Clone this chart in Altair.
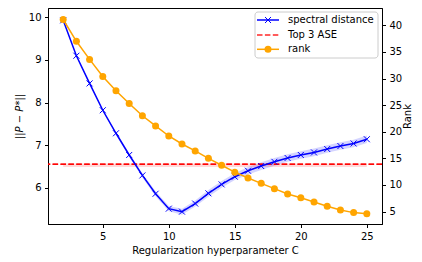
import altair as alt
import pandas as pd

# ---- data ----
C = list(range(2, 26))
spectral = [9.93, 9.10, 8.45, 7.82, 7.28, 6.77, 6.29, 5.86, 5.51, 5.44, 5.63, 5.87,
            6.08, 6.26, 6.40, 6.51, 6.61, 6.70, 6.77, 6.83, 6.91, 6.98, 7.04, 7.14]
spectral_std = [0.01, 0.02, 0.02, 0.03, 0.03, 0.04, 0.05, 0.06, 0.06, 0.07, 0.07, 0.08,
                0.08, 0.08, 0.09, 0.09, 0.09, 0.09, 0.09, 0.09, 0.09, 0.09, 0.09, 0.09]
rank = [41.1, 37.0, 33.6, 30.4, 27.7, 25.3, 23.0, 21.1, 19.2, 17.7, 16.4, 15.0,
        13.7, 12.4, 11.3, 10.3, 9.3, 8.3, 7.6, 6.8, 6.0, 5.3, 4.8, 4.6]
ase_value = 6.55
ase_low = 6.49
ase_high = 6.57
x_ticks = [5, 10, 15, 20, 25]
left_ticks = [6, 7, 8, 9, 10]
right_ticks = [5, 10, 15, 20, 25, 30, 35, 40]
legend_labels = ["spectral distance", "Top 3 ASE", "rank"]

df = pd.DataFrame({
    "C": C,
    "spectral": spectral,
    "lo": [m - s for m, s in zip(spectral, spectral_std)],
    "hi": [m + s for m, s in zip(spectral, spectral_std)],
    "rank": rank,
})
ase_df = pd.DataFrame({"C": [C[0], C[-1]], "lo": [ase_low, ase_low], "hi": [ase_high, ase_high]})

W, H = 334, 216
FONT = "DejaVu Sans"
XPATH = "M-1,-1L1,1M-1,1L1,-1"

xscale = alt.Scale(domain=[0.85, 26.15], nice=False, zero=False)
ylscale = alt.Scale(domain=[5.15, 10.22], nice=False, zero=False)
yrscale = alt.Scale(domain=[2.66, 43.26], nice=False, zero=False)

x_axis = alt.Axis(values=x_ticks, title="Regularization hyperparameter C", grid=False)
left_axis = alt.Axis(values=left_ticks, title="||P − P*||", titleFontStyle="italic", grid=False)
right_axis = alt.Axis(values=right_ticks, title="Rank", orient="right", grid=False,
                      titleAngle=270, titleBaseline="top", titlePadding=1)


def X(field="C:Q"):
    return alt.X(field, scale=xscale, axis=x_axis)


def YL(field):
    return alt.Y(field, scale=ylscale, axis=left_axis)


def YR(field):
    return alt.Y(field, scale=yrscale, axis=right_axis)


base = alt.Chart(df)

spec_band = base.mark_area(color="blue", opacity=0.17).encode(x=X(), y=YL("lo:Q"), y2="hi:Q")
ase_band = alt.Chart(ase_df).mark_area(color="red", opacity=0.15).encode(x=X(), y=YL("lo:Q"), y2="hi:Q")
ase_rule = alt.Chart(ase_df).mark_rule(color="red", opacity=0.85, strokeWidth=1.5,
                                       strokeDash=[5.5, 2.4]).encode(
    y=alt.Y(datum=ase_value, scale=ylscale, axis=left_axis))
spec_line = base.mark_line(color="blue", strokeWidth=1.5).encode(x=X(), y=YL("spectral:Q"))
spec_pts = base.mark_point(shape=XPATH, filled=False, color="blue", size=36,
                           strokeWidth=1, opacity=1).encode(x=X(), y=YL("spectral:Q"))

left = alt.layer(spec_band, ase_band, ase_rule, spec_line, spec_pts)

rank_line = base.mark_line(color="orange", strokeWidth=1.5).encode(x=X(), y=YR("rank:Q"))
rank_pts = base.mark_circle(color="orange", size=49, opacity=1).encode(x=X(), y=YR("rank:Q"))
right = alt.layer(rank_line, rank_pts)

# ---- hand-drawn legend (matplotlib style box) ----
one = alt.Chart(pd.DataFrame({"a": [0]}))
lx0, lx1, lmx, ltx = 209, 231, 220, 240
ly = [12, 27, 41.3]
leg_box = one.mark_rect(fill="white", fillOpacity=0.8, stroke="#cccccc", strokeWidth=1,
                        cornerRadius=3).encode(
    x=alt.value(207), x2=alt.value(330), y=alt.value(4), y2=alt.value(50))
leg_l1 = one.mark_rule(color="blue", strokeWidth=1.5).encode(
    x=alt.value(lx0), x2=alt.value(lx1), y=alt.value(ly[0]))
leg_p1 = one.mark_point(shape=XPATH, filled=False, color="blue", size=36, strokeWidth=1,
                        opacity=1).encode(x=alt.value(lmx), y=alt.value(ly[0]))
leg_l2 = one.mark_rule(color="red", opacity=0.85, strokeWidth=1.5, strokeDash=[5.5, 2.4]).encode(
    x=alt.value(lx0), x2=alt.value(lx1), y=alt.value(ly[1]))
leg_l3 = one.mark_rule(color="orange", strokeWidth=1.5).encode(
    x=alt.value(lx0), x2=alt.value(lx1), y=alt.value(ly[2]))
leg_p3 = one.mark_circle(color="orange", size=49, opacity=1).encode(
    x=alt.value(lmx), y=alt.value(ly[2]))
leg_texts = [
    one.mark_text(text=lab, align="left", baseline="middle", font=FONT, fontSize=10,
                  color="black").encode(x=alt.value(ltx), y=alt.value(yy))
    for lab, yy in zip(legend_labels, ly)
]

chart = alt.layer(
    left, right, leg_box, leg_l1, leg_p1, leg_l2, leg_l3, leg_p3, *leg_texts
).resolve_scale(y="independent").properties(
    width=W, height=H,
    autosize=alt.AutoSizeParams(type="none"),
    padding={"left": 40, "top": 0, "right": 32, "bottom": 34},
).configure_view(
    stroke="black", strokeWidth=1
).configure_axis(
    labelFont=FONT, titleFont=FONT, labelFontSize=10, titleFontSize=10,
    titleFontWeight="normal", labelColor="black", titleColor="black",
    domainColor="black", tickColor="black", tickSize=3.5, labelPadding=3.5,
    titlePadding=4, grid=False
)

chart.save("out.html", embed_options={"renderer": "svg", "actions": False})
